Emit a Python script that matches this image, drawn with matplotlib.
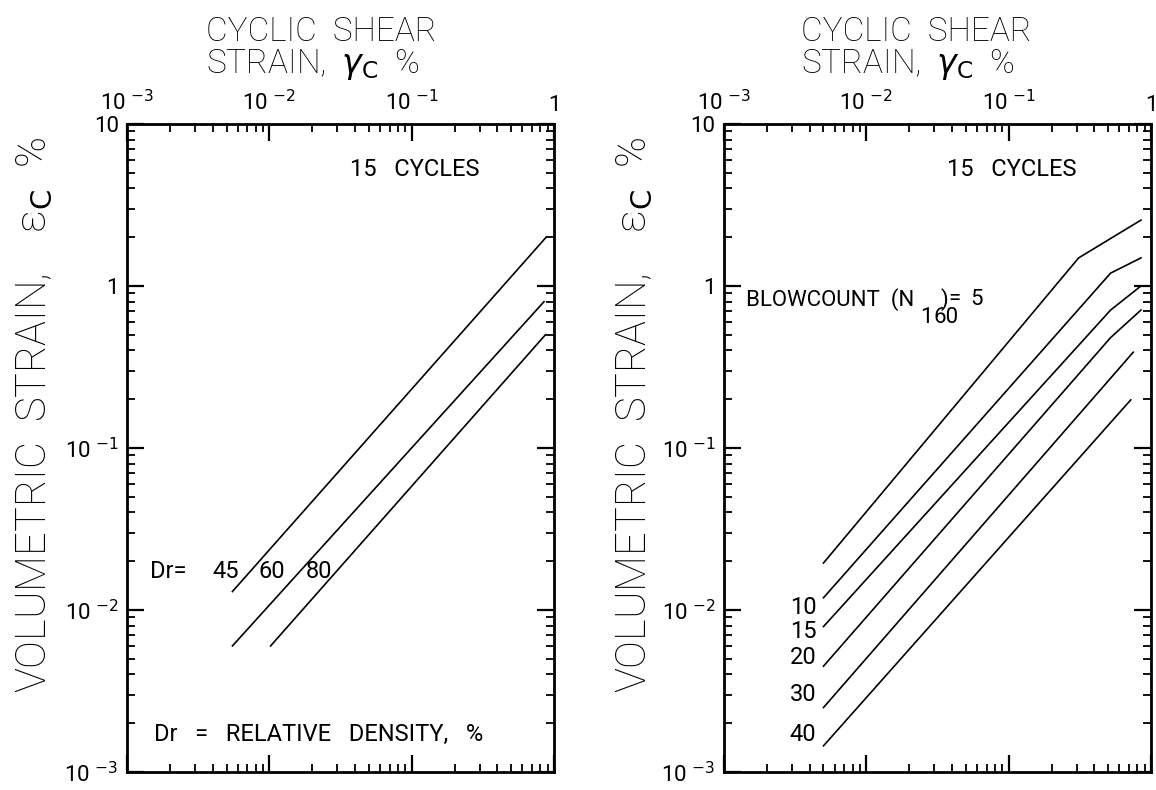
import matplotlib
matplotlib.use("Agg")
import matplotlib.pyplot as plt
from matplotlib.ticker import FixedLocator, LogLocator, NullFormatter

plt.rcParams['font.family'] = ['Roboto', 'DejaVu Sans']
plt.rcParams['mathtext.fontset'] = 'dejavusans'

# left panel: volumetric strain vs shear strain for relative density
dr_labels = ['45', '60', '80']
dr_x = [[0.0055, 0.88], [0.0055, 0.85], [0.0102, 0.87]]
dr_y = [[0.013, 2.0], [0.006, 0.8], [0.006, 0.5]]

# right panel: blowcount curves
n_labels = ['5', '10', '15', '20', '30', '40']
n_x = [[0.005, 0.31, 0.85], [0.005, 0.52, 0.85], [0.005, 0.52, 0.85],
       [0.005, 0.52, 0.85], [0.005, 0.75], [0.005, 0.72]]
n_y = [[0.0195, 1.49, 2.55], [0.0119, 1.2, 1.49], [0.0079, 0.71, 1.0],
       [0.0045, 0.48, 0.71], [0.0025, 0.39], [0.00145, 0.198]]
n_label_y = [0.0104, 0.0074, 0.0051, 0.0030, 0.0017]

x_ticks = [1e-3, 1e-2, 1e-1, 1]
x_ticklabels = [r'10 $^{-3}$', r'10 $^{-2}$', r'10 $^{-1}$', '1']
y_ticks = [1e-3, 1e-2, 1e-1, 1, 10]
y_ticklabels = [r'10 $^{-3}$', r'10 $^{-2}$', r'10 $^{-1}$', '1', '10']

fig = plt.figure(figsize=(11.56, 7.9), dpi=100)
ax1 = fig.add_axes([0.1099, 0.0228, 0.3694, 0.8203])
ax2 = fig.add_axes([0.6263, 0.0228, 0.3694, 0.8203])


def style_axes(ax):
    ax.set_xscale('log')
    ax.set_yscale('log')
    ax.set_xlim(1e-3, 1)
    ax.set_ylim(1e-3, 10)
    ax.xaxis.set_major_locator(FixedLocator(x_ticks))
    ax.yaxis.set_major_locator(FixedLocator(y_ticks))
    ax.xaxis.set_minor_locator(LogLocator(base=10, subs=range(2, 10)))
    ax.yaxis.set_minor_locator(LogLocator(base=10, subs=range(2, 10)))
    ax.xaxis.set_minor_formatter(NullFormatter())
    ax.yaxis.set_minor_formatter(NullFormatter())
    ax.set_xticklabels(x_ticklabels)
    ax.set_yticklabels(y_ticklabels)
    ax.tick_params(which='both', direction='in', top=True, right=True,
                   bottom=True, left=True, labeltop=True, labelbottom=False,
                   labelleft=True, labelright=False, labelsize=16, pad=6)
    ax.tick_params(which='major', length=12, width=1.6)
    ax.tick_params(which='minor', length=6, width=1.3)
    for s in ax.spines.values():
        s.set_linewidth(2)
    ax.text(0.105, 5.2, '15   CYCLES', ha='center', va='center', fontsize=17)


style_axes(ax1)
style_axes(ax2)

# left panel lines
for xs, ys in zip(dr_x, dr_y):
    ax1.plot(xs, ys, color='black', lw=1.2)
ax1.text(1.45e-3, 0.0172, 'Dr=', ha='left', va='center', fontsize=17)
for lab, xp in zip(dr_labels, [4.0e-3, 8.4e-3, 0.018]):
    ax1.text(xp, 0.0172, lab, ha='left', va='center', fontsize=17)
ax1.text(1.55e-3, 0.0017, 'Dr   =   RELATIVE   DENSITY,   %', ha='left',
         va='center', fontsize=17)

# right panel lines
for xs, ys in zip(n_x, n_y):
    ax2.plot(xs, ys, color='black', lw=1.2)
ax2.text(1.43e-3, 0.82, 'BLOWCOUNT  (N', ha='left', va='center', fontsize=16)
ax2.text(0.033, 0.82, ')', ha='left', va='center', fontsize=16)
ax2.text(0.024, 0.64, '1', ha='left', va='center', fontsize=16)
ax2.text(0.0295, 0.64, '60', ha='left', va='center', fontsize=16)
ax2.text(0.038, 0.84, '=', ha='left', va='center', fontsize=16)
ax2.text(0.054, 0.82, n_labels[0], ha='left', va='center', fontsize=16)
for lab, yp in zip(n_labels[1:], n_label_y):
    ax2.text(4.45e-3, yp, lab, ha='right', va='center', fontsize=17)

# titles and y labels
for x0 in [0.178, 0.693]:
    fig.text(x0, 0.96, 'CYCLIC  SHEAR', ha='left', va='center',
             fontsize=24, fontweight='light')
    fig.text(x0, 0.918, r'STRAIN,  $\gamma_{\rm C}$  %', ha='left',
             va='center', fontsize=24, fontweight='light')
for x0 in [0.030, 0.549]:
    fig.text(x0, 0.475, 'VOLUMETRIC  STRAIN,    ε' + r'$_{\rm C}$' + '  %',
             rotation=90, ha='center', va='center', fontsize=30,
             fontweight='light')

fig.savefig('out.png', dpi=100)
